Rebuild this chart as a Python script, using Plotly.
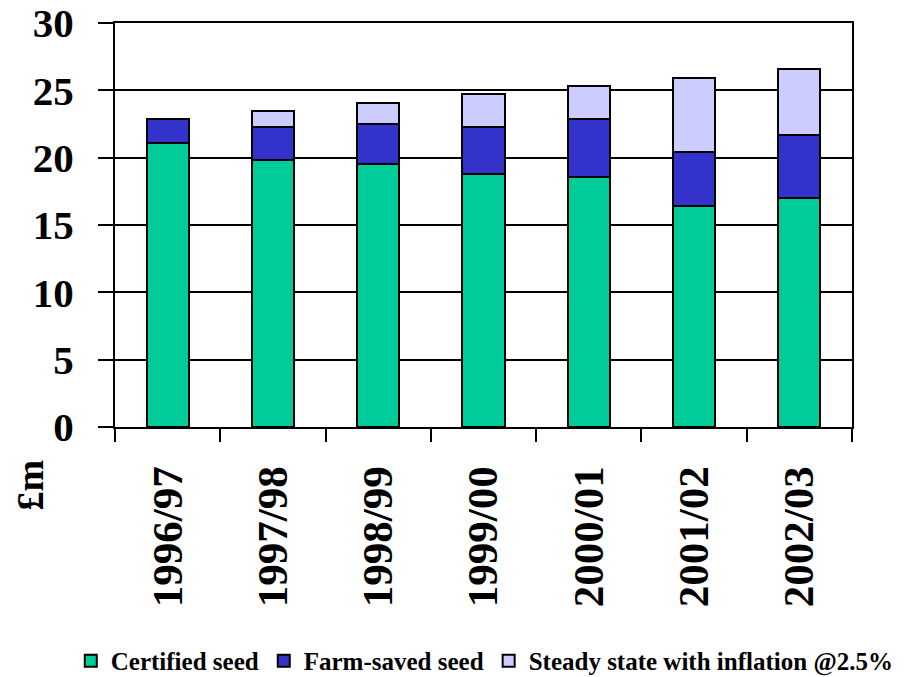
import plotly.graph_objects as go

# Seed expenditure, £m, by season
seasons = ["1996/97", "1997/98", "1998/99", "1999/00", "2000/01", "2001/02", "2002/03"]
certified_seed = [21.1, 19.8, 19.5, 18.8, 18.6, 16.4, 17.0]
farm_saved_seed = [1.8, 2.5, 3.0, 3.45, 4.25, 4.0, 4.7]
steady_state_inflation = [0.0, 1.2, 1.55, 2.45, 2.45, 5.5, 4.9]
y_ticks = [0, 5, 10, 15, 20, 25, 30]

FONT = "Liberation Serif"

series = [
    ("Certified seed", certified_seed, "#00CC99"),
    ("Farm-saved seed", farm_saved_seed, "#3333CC"),
    ("Steady state with inflation @2.5%", steady_state_inflation, "#CCCCFF"),
]

fig = go.Figure()
for name, vals, color in series:
    fig.add_trace(go.Bar(
        x=seasons, y=vals, name=f"<b>{name}</b>",
        marker=dict(color=color, line=dict(color="black", width=2)),
        width=0.4,
    ))

fig.update_layout(
    barmode="stack",
    width=915, height=677,
    margin=dict(l=115, r=63, t=23, b=250, autoexpand=False),
    paper_bgcolor="white", plot_bgcolor="white",
    font=dict(family=FONT, color="black"),
    showlegend=True,
    legend=dict(
        orientation="h", traceorder="normal",
        x=-0.06, xanchor="left", y=-0.579, yanchor="middle",
        font=dict(family=FONT, size=25, color="black"),
        itemwidth=30,
    ),
    xaxis=dict(
        automargin=False,
        showline=True, linecolor="black", linewidth=2, mirror=True,
        ticks="outside", ticklen=13, tickwidth=2, tickcolor="black",
        tickson="boundaries", tickangle=-90,
        tickfont=dict(family=FONT, size=43, color="black"),
        ticklabelstandoff=20,
        tickvals=seasons, ticktext=[f"<b>{s}</b>" for s in seasons],
        showgrid=False,
    ),
    yaxis=dict(
        automargin=False,
        range=[0, 30], tickvals=y_ticks, ticktext=[f"<b>{v}</b>" for v in y_ticks],
        showline=True, linecolor="black", linewidth=2, mirror=True,
        ticks="outside", ticklen=15, tickwidth=2, tickcolor="black",
        tickfont=dict(family=FONT, size=41, color="black"),
        ticklabelstandoff=16,
        showgrid=True, gridcolor="black", gridwidth=2,
        zeroline=False,
    ),
    annotations=[dict(
        text="<b>£m</b>", xref="paper", yref="paper",
        x=-0.115, y=-0.144, xanchor="center", yanchor="middle",
        textangle=-90, showarrow=False,
        font=dict(family=FONT, size=38, color="black"),
    )],
)

fig.write_html("out.html")
